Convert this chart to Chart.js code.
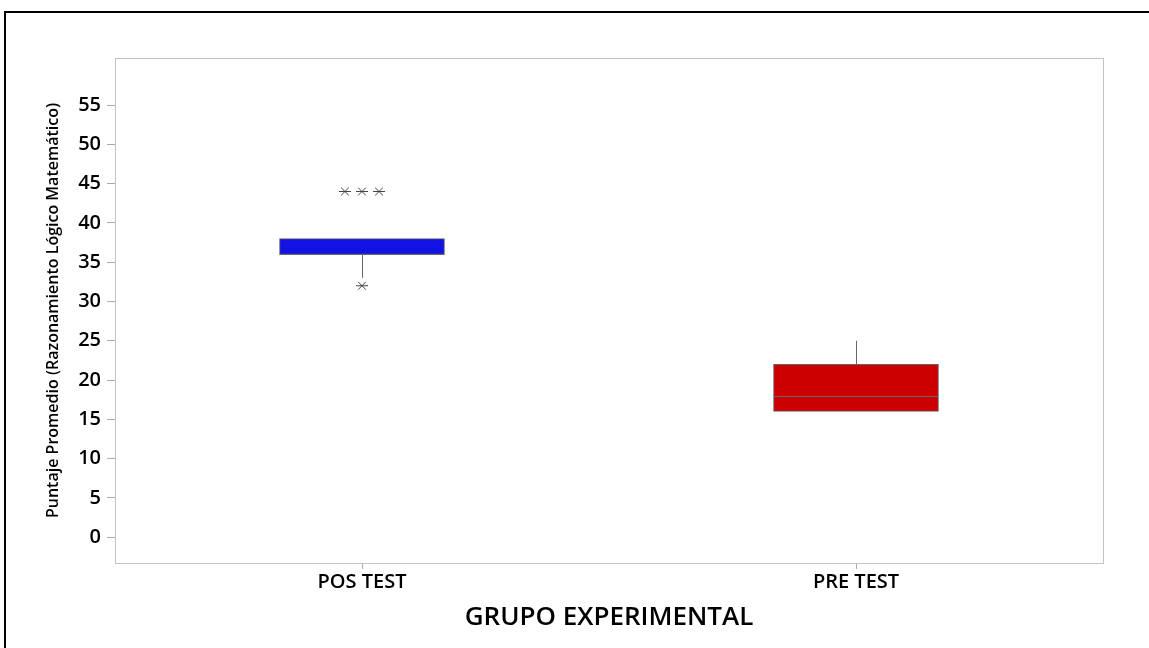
<!DOCTYPE html>
<html>
<head>
<meta charset="utf-8">
<script src="https://cdn.jsdelivr.net/npm/chart.js@4"></script>
<style>
  body { margin: 0; background: #fff; overflow: hidden; }
  #frame { position: absolute; left: 4px; top: 11px; width: 1200px; height: 700px;
           border-left: 2px solid #000; border-top: 2px solid #000; }
  #wrap { position: absolute; left: 0; top: 0; width: 1149px; height: 648px; }
</style>
</head>
<body>
<div id="frame"></div>
<div id="wrap"><canvas id="boxChart"></canvas></div>
<script>
const groups = ['POS TEST', 'PRE TEST'];
const q1 = [36, 16];
const q3 = [38, 22];
const medians = [36, 18];
const whiskerLow = [33, 16];
const whiskerHigh = [38, 25];
const outliers = [[44, 44, 44, 32], []];
const yTicks = [0, 5, 10, 15, 20, 25, 30, 35, 40, 45, 50, 55];
const boxColors = ['#1212E2', '#CC0000'];

const FONT = "'Open Sans', 'Noto Sans', sans-serif";

// tied outliers sit side by side, like Minitab does
const outlierPoints = [];
outliers.forEach((vals, g) => {
  const counts = {};
  vals.forEach(v => { counts[v] = (counts[v] || 0) + 1; });
  const seen = {};
  vals.forEach(v => {
    const k = seen[v] || 0;
    seen[v] = k + 1;
    outlierPoints.push({ x: g + (k - (counts[v] - 1) / 2) * 0.0345, y: v });
  });
});

const boxExtras = {
  id: 'boxExtras',
  beforeDraw(chart) {
    const a = chart.chartArea, ctx = chart.ctx;
    ctx.save();
    ctx.strokeStyle = '#c4c4c4';
    ctx.lineWidth = 1;
    ctx.strokeRect(a.left + 0.5, a.top + 0.5, a.right - a.left, a.bottom - a.top);
    ctx.restore();
  },
  afterDatasetsDraw(chart) {
    const ctx = chart.ctx;
    const xs = chart.scales.x, ys = chart.scales.y;
    const bars = chart.getDatasetMeta(0).data;
    ctx.save();
    ctx.strokeStyle = '#666';
    ctx.lineWidth = 1;
    groups.forEach((g, i) => {
      const cx = Math.round(xs.getPixelForValue(i)) + 0.5;
      ctx.beginPath();
      ctx.moveTo(cx, ys.getPixelForValue(q3[i]));
      ctx.lineTo(cx, ys.getPixelForValue(whiskerHigh[i]));
      ctx.moveTo(cx, ys.getPixelForValue(q1[i]));
      ctx.lineTo(cx, ys.getPixelForValue(whiskerLow[i]));
      ctx.stroke();
      const w = bars[i].width;
      const my = Math.round(ys.getPixelForValue(medians[i])) + 0.5;
      ctx.beginPath();
      ctx.moveTo(bars[i].x - w / 2, my);
      ctx.lineTo(bars[i].x + w / 2, my);
      ctx.stroke();
    });
    ctx.restore();
  }
};

new Chart(document.getElementById('boxChart'), {
  type: 'bar',
  data: {
    labels: groups,
    datasets: [{
      data: groups.map((g, i) => [q1[i], q3[i]]),
      backgroundColor: boxColors,
      borderColor: '#666',
      borderWidth: 1,
      borderSkipped: false,
      grouped: false,
      barThickness: 165
    }, {
      type: 'scatter',
      xAxisID: 'xj',
      data: outlierPoints,
      pointStyle: 'crossRot',
      pointRadius: 5.5,
      borderColor: '#444',
      borderWidth: 1
    }, {
      type: 'scatter',
      xAxisID: 'xj',
      data: outlierPoints,
      pointStyle: 'line',
      pointRadius: 6,
      borderColor: '#444',
      borderWidth: 1
    }]
  },
  options: {
    responsive: true,
    maintainAspectRatio: false,
    animation: false,
    layout: { padding: { left: 44, top: 58, right: 46, bottom: 0 } },
    plugins: { legend: { display: false }, tooltip: { enabled: false } },
    scales: {
      x: {
        offset: true,
        grid: { offset: false, drawOnChartArea: false, tickLength: 6, color: '#aaa' },
        border: { color: '#c4c4c4' },
        ticks: { color: '#000', font: { family: FONT, size: 20, weight: '600' }, padding: 1 },
        title: {
          display: true, text: 'GRUPO EXPERIMENTAL', color: '#000',
          font: { family: FONT, size: 26, weight: '600' }, padding: { top: 2, bottom: 15 }
        },
        afterFit(s) { s.height = 85; }
      },
      xj: { type: 'linear', min: -0.5, max: 1.5, offset: false, display: false },
      y: {
        min: -3.3,
        max: 61,
        afterBuildTicks(s) { s.ticks = yTicks.map(v => ({ value: v })); },
        grid: { drawOnChartArea: false, tickLength: 8, color: '#aaa' },
        border: { color: '#c4c4c4' },
        ticks: { color: '#000', font: { family: FONT, size: 20, weight: '600' }, padding: 6 },
        title: {
          display: true, text: 'Puntaje Promedio (Razonamiento Lógico Matemático)',
          color: '#000', font: { family: FONT, size: 16, weight: '600' }, padding: 0
        },
        afterFit(s) { s.width = 71; }
      }
    }
  },
  plugins: [boxExtras]
});
</script>
</body>
</html>
